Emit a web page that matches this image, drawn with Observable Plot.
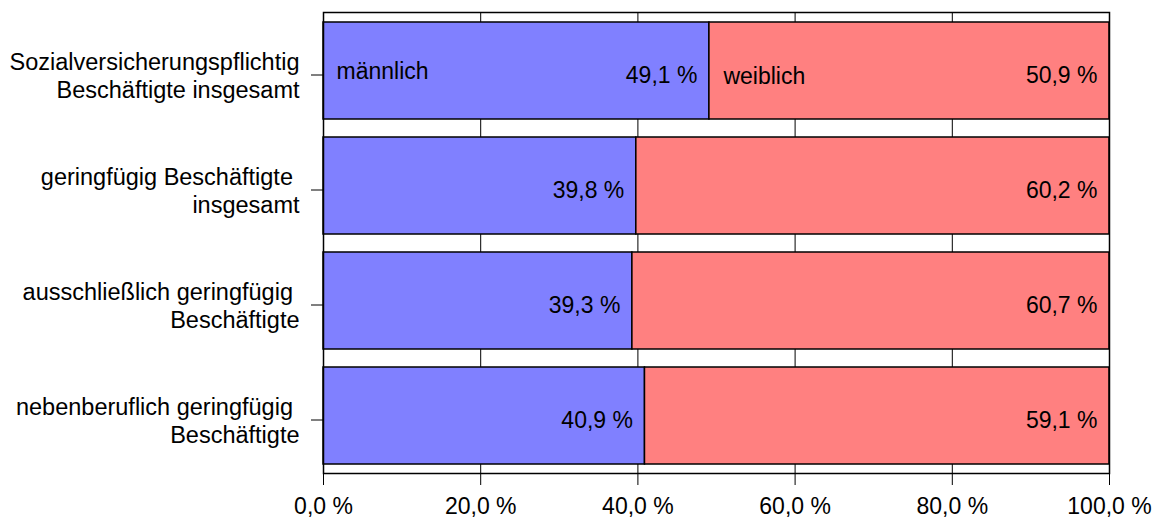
<!DOCTYPE html>
<html><head><meta charset="utf-8">
<script src="https://cdn.jsdelivr.net/npm/d3@7"></script>
<script src="https://cdn.jsdelivr.net/npm/@observablehq/plot@0.6"></script>
<style>html,body{margin:0;padding:0;background:#fff} svg{display:block}</style>
</head><body><div id="chart"></div>
<script>
const categories = [
  "Sozialversicherungspflichtig Beschäftigte insgesamt",
  "geringfügig Beschäftigte insgesamt",
  "ausschließlich geringfügig Beschäftigte",
  "nebenberuflich geringfügig Beschäftigte"
];
const categoryLabels = [
  "Sozialversicherungspflichtig\nBeschäftigte insgesamt",
  "geringfügig Beschäftigte\u00A0\ninsgesamt",
  "ausschließlich geringfügig\u00A0\nBeschäftigte",
  "nebenberuflich geringfügig\u00A0\nBeschäftigte"
];
const maleShares = [49.1, 39.8, 39.3, 40.9];
const femaleShares = [50.9, 60.2, 60.7, 59.1];
const seriesNames = ["männlich", "weiblich"];
const seriesColors = ["#8080ff", "#ff8080"];
const xTicks = [0, 20, 40, 60, 80, 100];

const rows = categories.flatMap((c, i) => [
  {cat: c, series: seriesNames[0], x1: 0, x2: maleShares[i], value: maleShares[i], first: i === 0},
  {cat: c, series: seriesNames[1], x1: maleShares[i], x2: maleShares[i] + femaleShares[i], value: femaleShares[i], first: i === 0}
]);
const fmt = v => v.toFixed(1).replace(".", ",") + " %";

const chart = Plot.plot({
  width: 1157, height: 520,
  marginTop: 12, marginBottom: 47, marginLeft: 323, marginRight: 48,
  style: {fontFamily: "'Liberation Sans', Arial, sans-serif", fontSize: "23px", color: "#000", background: "#fff"},
  x: {domain: [0, 100]},
  y: {domain: categories, paddingInner: 0.16, paddingOuter: 0.07},
  color: {domain: seriesNames, range: seriesColors},
  marks: [
    Plot.ruleX(xTicks, {stroke: "#000", strokeWidth: 1}),
    Plot.barX(rows, {y: "cat", x1: "x1", x2: "x2", fill: "series", stroke: "#000", strokeWidth: 1.5}),
    Plot.frame({stroke: "#000", strokeWidth: 1.5}),
    Plot.axisX({ticks: xTicks, tickFormat: fmt, tickSize: 12, tickPadding: 12, label: null}),
    Plot.axisY({tickSize: 12, tickPadding: 12, tickFormat: d => categoryLabels[categories.indexOf(d)], label: null, lineHeight: 1.217, dy: 4, fontSize: 23.5}),
    Plot.text(rows, {y: "cat", x: "x2", text: d => fmt(d.value), textAnchor: "end", dx: -12, dy: 5}),
    Plot.text(rows.filter(d => d.first && d.series === seriesNames[0]), {y: "cat", x: "x1", text: "series", textAnchor: "start", dx: 13, dy: 1}),
    Plot.text(rows.filter(d => d.first && d.series === seriesNames[1]), {y: "cat", x: "x1", text: "series", textAnchor: "start", dx: 14, dy: 6})
  ]
});
document.getElementById("chart").appendChild(chart);
</script>
</body></html>
